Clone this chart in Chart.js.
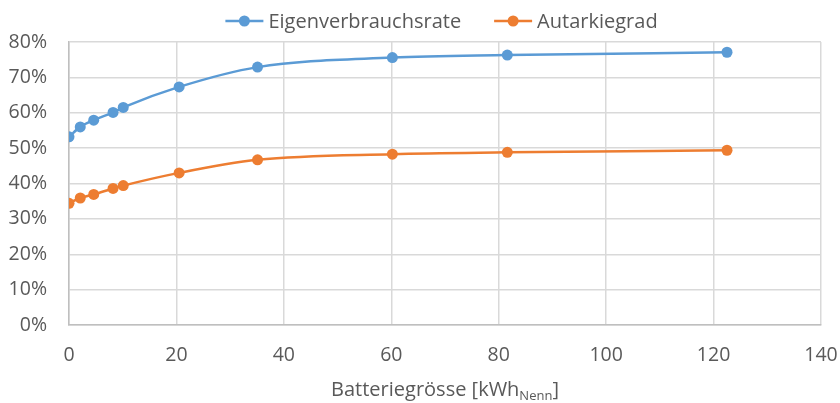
<!DOCTYPE html>
<html>
<head>
<meta charset="utf-8">
<script src="https://cdn.jsdelivr.net/npm/chart.js@4"></script>
<style>
html,body{margin:0;padding:0;background:#fff;}
#wrap{width:840px;height:403px;position:relative;}
</style>
</head>
<body>
<div id="wrap"><canvas id="c" width="840" height="403"></canvas></div>
<script>
// ---- data ----
const batterySize = [0, 2.1, 4.6, 8.2, 10.1, 20.5, 35.1, 60.2, 81.6, 122.5];
const eigenverbrauchsrate = [53.2, 56.0, 57.9, 60.1, 61.5, 67.3, 72.9, 75.6, 76.3, 77.1];
const autarkiegrad = [34.4, 35.9, 36.9, 38.6, 39.4, 43.0, 46.7, 48.3, 48.8, 49.4];
const seriesNames = ["Eigenverbrauchsrate", "Autarkiegrad"];
const xTitle = "Batteriegrösse [kWh";
const xTitleSub = "Nenn";
const xTitleEnd = "]";

const BLUE = "#5B9BD5", ORANGE = "#ED7D31", TXT = "#595959", GRID = "#D9D9D9";
const FONT = "'Open Sans', sans-serif";

const toPts = ys => batterySize.map((x, i) => ({x: x, y: ys[i]}));

const customDraw = {
  id: 'customDraw',
  afterDraw(chart) {
    const ctx = chart.ctx;
    ctx.save();
    // legend
    ctx.font = "20px " + FONT;
    ctx.textBaseline = "middle";
    const items = [{t: seriesNames[0], c: BLUE}, {t: seriesNames[1], c: ORANGE}];
    const mw = 38, gap = 5, itemGap = 33;
    let total = 0;
    items.forEach((it, i) => { it.w = ctx.measureText(it.t).width; total += mw + gap + it.w + (i ? itemGap : 0); });
    let x = 441.5 - total / 2;
    const y = 21;
    items.forEach((it, i) => {
      if (i) x += itemGap;
      ctx.strokeStyle = it.c; ctx.lineWidth = 2.5;
      ctx.beginPath(); ctx.moveTo(x, y); ctx.lineTo(x + mw, y); ctx.stroke();
      ctx.fillStyle = it.c;
      ctx.beginPath(); ctx.arc(x + mw / 2, y, 5.5, 0, Math.PI * 2); ctx.fill();
      ctx.fillStyle = TXT;
      ctx.textAlign = "left";
      ctx.fillText(it.t, x + mw + gap, y + 1);
      x += mw + gap + it.w;
    });
    // x axis title with subscript
    const f1 = "20px " + FONT, f2 = "13px " + FONT;
    ctx.font = f1; const w1 = ctx.measureText(xTitle).width; const w3 = ctx.measureText(xTitleEnd).width;
    ctx.font = f2; const w2 = ctx.measureText(xTitleSub).width;
    const tw = w1 + w2 + w3;
    let tx = 445 - tw / 2;
    const ty = 396;
    ctx.textBaseline = "alphabetic"; ctx.textAlign = "left"; ctx.fillStyle = TXT;
    ctx.font = f1; ctx.fillText(xTitle, tx, ty); tx += w1;
    ctx.font = f2; ctx.fillText(xTitleSub, tx, ty + 4); tx += w2;
    ctx.font = f1; ctx.fillText(xTitleEnd, tx, ty);
    ctx.restore();
  }
};

new Chart(document.getElementById('c'), {
  type: 'line',
  data: {
    datasets: [
      {label: seriesNames[0], data: toPts(eigenverbrauchsrate), borderColor: BLUE, backgroundColor: BLUE,
       borderWidth: 2.5, pointRadius: 5.5, pointHoverRadius: 5.5, pointBorderWidth: 0, cubicInterpolationMode: 'monotone'},
      {label: seriesNames[1], data: toPts(autarkiegrad), borderColor: ORANGE, backgroundColor: ORANGE,
       borderWidth: 2.5, pointRadius: 5.5, pointHoverRadius: 5.5, pointBorderWidth: 0, cubicInterpolationMode: 'monotone'}
    ]
  },
  options: {
    responsive: false,
    animation: false,
    events: [],
    layout: {padding: {left: 0, right: 19, top: 42, bottom: 0}},
    plugins: {legend: {display: false}, tooltip: {enabled: false}},
    scales: {
      x: {
        type: 'linear', min: 0, max: 140,
        ticks: {stepSize: 20, color: TXT, font: {family: FONT, size: 19.5}, padding: 19, maxRotation: 0},
        grid: {color: GRID, lineWidth: 1.5, drawTicks: false},
        border: {color: "#BFBFBF", width: 1.5},
        afterFit(s) { s.height = 78; s.paddingLeft = 0; s.paddingRight = 0; }
      },
      y: {
        min: 0, max: 80,
        ticks: {stepSize: 10, color: TXT, font: {family: FONT, size: 19.5}, padding: 22, callback: v => v + '%'},
        grid: {color: GRID, lineWidth: 1.5, drawTicks: false},
        border: {color: "#BFBFBF", width: 1.5},
        afterFit(s) { s.width = 69; s.paddingTop = 0; s.paddingBottom = 0; }
      }
    }
  },
  plugins: [customDraw]
});
</script>
</body>
</html>
